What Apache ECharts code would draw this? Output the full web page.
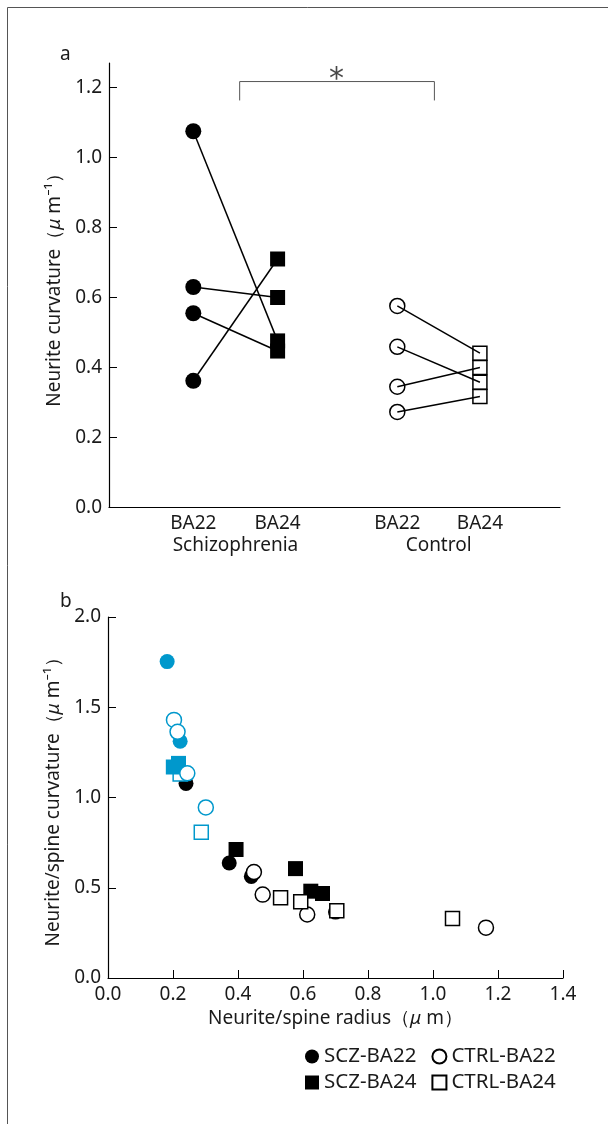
<!DOCTYPE html>
<html>
	<head>
		<meta charset="utf-8" />
		<title>Neurite curvature</title>
		<style>
			html, body {
				width: 100%;
				height: 100%;
				margin: 0;
				padding: 0;
				background: #fff;
			}
			#main {
				width: 608px;
				height: 1124px;
			}
		</style>
	</head>
	<body>
		<div id="main"></div>
		<script src="https://cdn.jsdelivr.net/npm/echarts@6/dist/echarts.min.js"></script>
		<script>
			// panel a: paired values per subject (same index = same subject)
			var sczBA22 = [1.075, 0.63, 0.555, 0.362];
			var sczBA24 = [0.476, 0.60, 0.447, 0.71];
			var ctrlBA22 = [0.576, 0.459, 0.345, 0.273];
			var ctrlBA24 = [0.441, 0.358, 0.40, 0.317];
			var posA = [1, 2, 3.42, 4.4];
			var tickLabelsA = ['BA22', 'BA24', 'BA22', 'BA24'];
			var groupPos = [1.5, 3.91];
			var groupLabels = ['Schizophrenia', 'Control'];
			var yTicksA = [0, 0.2, 0.4, 0.6, 0.8, 1.0, 1.2];

			// panel b: [radius, curvature]
			var sczBA22b = [[0.240, 1.078], [0.373, 0.637], [0.441, 0.563], [0.700, 0.365]];
			var sczBA24b = [[0.394, 0.712], [0.577, 0.606], [0.624, 0.481], [0.660, 0.468]];
			var ctrlBA22b = [[0.449, 0.587], [0.476, 0.462], [0.613, 0.352], [1.163, 0.279]];
			var ctrlBA24b = [[0.531, 0.444], [0.593, 0.422], [0.704, 0.373], [1.060, 0.330]];
			// highlighted (blue) points
			var sczBA22blue = [[0.182, 1.753], [0.222, 1.312]];
			var sczBA24blue = [[0.201, 1.169], [0.217, 1.189]];
			var ctrlBA22blue = [[0.203, 1.430], [0.214, 1.364], [0.244, 1.134], [0.301, 0.945]];
			var ctrlBA24blue = [[0.222, 1.130], [0.287, 0.808]];
			var xTicksB = [0, 0.2, 0.4, 0.6, 0.8, 1.0, 1.2, 1.4];
			var yTicksB = [0, 0.5, 1.0, 1.5, 2.0];

			var FONT = 'Noto Sans';
			var BLUE = '#0098cc';
			var txt = { fontFamily: FONT, fontSize: 19, color: '#1a1a1a' };
			var rich = {
				i: { fontFamily: FONT, fontSize: 19, fontStyle: 'italic', color: '#1a1a1a' }
			};

			function nearest(arr, v) {
				var best = 0;
				for (var i = 1; i < arr.length; i++) {
					if (Math.abs(arr[i] - v) < Math.abs(arr[best] - v)) best = i;
				}
				return best;
			}

			var series = [];

			// connecting lines, panel a
			for (var i = 0; i < sczBA22.length; i++) {
				series.push({
					type: 'line', xAxisIndex: 0, yAxisIndex: 0, symbol: 'none', silent: true,
					lineStyle: { color: '#000', width: 1.5 },
					data: [[posA[0], sczBA22[i]], [posA[1], sczBA24[i]]]
				});
			}
			for (var j = 0; j < ctrlBA22.length; j++) {
				series.push({
					type: 'line', xAxisIndex: 0, yAxisIndex: 0, symbol: 'none', silent: true,
					lineStyle: { color: '#000', width: 1.5 },
					data: [[posA[2], ctrlBA22[j]], [posA[3], ctrlBA24[j]]]
				});
			}

			function pts(x, arr) {
				return arr.map(function (v) { return [x, v]; });
			}
			var filled = { color: '#000', opacity: 1 };
			var filledBlue = { color: BLUE, opacity: 1 };
			var open = { color: '#fff', borderColor: '#000', borderWidth: 1.5, opacity: 1 };
			var openBlue = { color: '#fff', borderColor: BLUE, borderWidth: 1.5, opacity: 1 };

			series.push(
				{ name: 'a-SCZ-BA22', type: 'scatter', xAxisIndex: 0, yAxisIndex: 0, symbol: 'circle', symbolSize: 16, itemStyle: filled, data: pts(posA[0], sczBA22) },
				{ name: 'a-SCZ-BA24', type: 'scatter', xAxisIndex: 0, yAxisIndex: 0, symbol: 'rect', symbolSize: 15, itemStyle: filled, data: pts(posA[1], sczBA24) },
				{ name: 'a-CTRL-BA22', type: 'scatter', xAxisIndex: 0, yAxisIndex: 0, symbol: 'circle', symbolSize: 15, itemStyle: open, data: pts(posA[2], ctrlBA22) },
				{ name: 'a-CTRL-BA24', type: 'scatter', xAxisIndex: 0, yAxisIndex: 0, symbol: 'rect', symbolSize: 14, itemStyle: open, data: pts(posA[3], ctrlBA24) }
			);

			// significance bracket
			series.push({
				type: 'line', xAxisIndex: 0, yAxisIndex: 0, symbol: 'none', silent: true,
				lineStyle: { color: '#555', width: 1 },
				data: [[1.55, 1.163], [1.55, 1.217], [3.86, 1.217], [3.86, 1.163]]
			});
			series.push({
				type: 'scatter', xAxisIndex: 0, yAxisIndex: 0, symbolSize: 0, silent: true,
				label: { show: true, formatter: '*', position: 'top', distance: 0, offset: [0, 14], fontFamily: 'DejaVu Sans', fontSize: 30, color: '#1a1a1a' },
				data: [[2.7, 1.217]]
			});

			// panel b
			series.push(
				{ name: 'SCZ-BA22', type: 'scatter', xAxisIndex: 2, yAxisIndex: 1, symbol: 'circle', symbolSize: 15, itemStyle: filled, data: sczBA22b },
				{ name: 'SCZ-BA22 (blue)', type: 'scatter', xAxisIndex: 2, yAxisIndex: 1, symbol: 'circle', symbolSize: 15, itemStyle: filledBlue, data: sczBA22blue },
				{ name: 'CTRL-BA24 (blue)', type: 'scatter', xAxisIndex: 2, yAxisIndex: 1, symbol: 'rect', symbolSize: 14, itemStyle: openBlue, data: ctrlBA24blue },
				{ name: 'SCZ-BA24', type: 'scatter', xAxisIndex: 2, yAxisIndex: 1, symbol: 'rect', symbolSize: 15, itemStyle: filled, data: sczBA24b },
				{ name: 'SCZ-BA24 (blue)', type: 'scatter', xAxisIndex: 2, yAxisIndex: 1, symbol: 'rect', symbolSize: 15, itemStyle: filledBlue, data: sczBA24blue },
				{ name: 'CTRL-BA22', type: 'scatter', xAxisIndex: 2, yAxisIndex: 1, symbol: 'circle', symbolSize: 15, itemStyle: open, data: ctrlBA22b },
				{ name: 'CTRL-BA22 (blue)', type: 'scatter', xAxisIndex: 2, yAxisIndex: 1, symbol: 'circle', symbolSize: 15, itemStyle: openBlue, data: ctrlBA22blue },
				{ name: 'CTRL-BA24', type: 'scatter', xAxisIndex: 2, yAxisIndex: 1, symbol: 'rect', symbolSize: 14, itemStyle: open, data: ctrlBA24b }
			);

			var axisLine = { show: true, lineStyle: { color: '#000', width: 1.2 } };
			var legendCommon = {
				left: 300, itemWidth: 14, itemHeight: 14, itemGap: 15, selectedMode: false,
				textStyle: { fontFamily: FONT, fontSize: 20.5, color: '#1a1a1a', padding: [0, 0, 0, 0] }
			};

			var chart = echarts.init(document.getElementById('main'), null, { renderer: 'canvas' });
			chart.setOption({
				animation: false,
				backgroundColor: '#fff',
				grid: [
					{ left: 109, top: 63, width: 451, height: 444.5 },
					{ left: 108, top: 617, width: 455, height: 361 }
				],
				xAxis: [
					{
						type: 'value', gridIndex: 0, min: 0, max: 5.35, position: 'bottom',
						axisLine: axisLine, axisTick: { show: false }, splitLine: { show: false },
						axisLabel: Object.assign({
							customValues: posA, margin: 7,
							formatter: function (v) { return tickLabelsA[nearest(posA, v)]; }
						}, txt)
					},
					{
						type: 'value', gridIndex: 0, min: 0, max: 5.35, position: 'bottom',
						axisLine: { show: false }, axisTick: { show: false }, splitLine: { show: false },
						axisLabel: Object.assign({
							customValues: groupPos, margin: 29,
							formatter: function (v) { return groupLabels[nearest(groupPos, v)]; }
						}, txt)
					},
					{
						type: 'value', gridIndex: 1, min: 0, max: 1.4, position: 'bottom',
						axisLine: axisLine,
						axisTick: { show: true, inside: true, length: 8, customValues: xTicksB, lineStyle: { color: '#000' } },
						splitLine: { show: false },
						axisLabel: Object.assign({
							customValues: xTicksB, margin: 7,
							formatter: function (v) { return v.toFixed(1); }
						}, txt),
						name: 'Neurite/spine radius（{i|μ} m）', nameLocation: 'middle', nameGap: 31,
						nameTextStyle: Object.assign({ rich: rich }, txt)
					}
				],
				yAxis: [
					{
						type: 'value', gridIndex: 0, min: 0, max: 1.27,
						axisLine: axisLine,
						axisTick: { show: true, inside: true, length: 8, customValues: yTicksA, lineStyle: { color: '#000' } },
						splitLine: { show: false },
						axisLabel: Object.assign({
							customValues: yTicksA, margin: 7,
							formatter: function (v) { return v.toFixed(1); }
						}, txt),
						name: 'Neurite curvature（{i|μ} m⁻¹）', nameLocation: 'middle', nameGap: 41,
						nameTextStyle: Object.assign({ rich: rich }, txt)
					},
					{
						type: 'value', gridIndex: 1, min: 0, max: 2.0,
						axisLine: axisLine,
						axisTick: { show: true, inside: true, length: 8, customValues: yTicksB, lineStyle: { color: '#000' } },
						splitLine: { show: false },
						axisLabel: Object.assign({
							customValues: yTicksB, margin: 7,
							formatter: function (v) { return v.toFixed(1); }
						}, txt),
						name: 'Neurite/spine curvature（{i|μ} m⁻¹）', nameLocation: 'middle', nameGap: 41,
						nameTextStyle: Object.assign({ rich: rich }, txt)
					}
				],
				legend: [
					Object.assign({ top: 1041, data: [{ name: 'SCZ-BA22', icon: 'circle' }, { name: 'CTRL-BA22', icon: 'circle' }] }, legendCommon),
					Object.assign({ top: 1067, data: [{ name: 'SCZ-BA24', icon: 'rect' }, { name: 'CTRL-BA24', icon: 'rect' }] }, legendCommon)
				],
				graphic: [
					{ type: 'polyline', shape: { points: [[608, 7.5], [7.5, 7.5], [7.5, 1124]] }, style: { stroke: '#555', lineWidth: 1, fill: null } },
					{ type: 'text', left: 60, top: 45, style: { text: 'a', fontFamily: FONT, fontSize: 19, fill: '#1a1a1a' } },
					{ type: 'text', left: 60, top: 592, style: { text: 'b', fontFamily: FONT, fontSize: 19, fill: '#1a1a1a' } }
				],
				series: series
			});
		</script>
	</body>
</html>
